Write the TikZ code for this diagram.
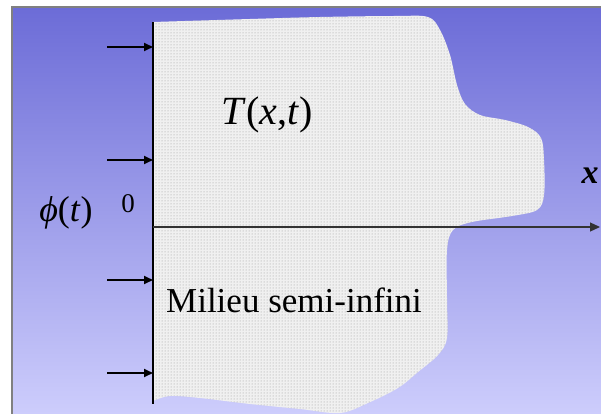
\documentclass[tikz,border=0pt]{standalone}
\usepackage{fontspec}
\setmainfont{Liberation Serif}
\usetikzlibrary{arrows.meta,patterns}
\definecolor{bgtop}{RGB}{108,108,215}
\definecolor{bgbot}{RGB}{205,205,252}
\begin{document}
\begin{tikzpicture}[
  x=1pt, y=-1pt,
  flux/.style={line width=1.8pt, -{Triangle[length=9pt, width=8pt]}},
  axis/.style={line width=1.2pt, draw=black!80, -{Triangle[length=10pt, width=9pt]}},
  every node/.style={inner sep=0pt, font=\fontsize{36}{40}\selectfont}
]
  \useasboundingbox (0,0) rectangle (601,414);
  \shade[top color=bgtop, bottom color=bgbot] (12,7) rectangle (601,414);
  \draw[gray, line width=1.2pt] (12,414) -- (12,7) -- (601,7);

  % the semi-infinite medium
  \fill[black!6] (153,404) -- (153,22)
    -- plot[smooth, tension=0.55] coordinates {(153,22) (250,19) (320,17) (395,16) (428,17)
       (440,30) (450,55) (457,85) (465,104) (480,115) (505,120) (528,127) (541,138)
       (544,160) (544,195) (537,210) (512,216) (472,222) (453,230) (447,250) (447,300)
       (447,338) (438,355) (418,372) (398,388) (368,403) (340,413) (300,409) (250,404)
       (200,398) (170,396) (153,401)}
    -- cycle;
  \fill[pattern=dots, pattern color=black!40] (153,404) -- (153,22)
    -- plot[smooth, tension=0.55] coordinates {(153,22) (250,19) (320,17) (395,16) (428,17)
       (440,30) (450,55) (457,85) (465,104) (480,115) (505,120) (528,127) (541,138)
       (544,160) (544,195) (537,210) (512,216) (472,222) (453,230) (447,250) (447,300)
       (447,338) (438,355) (418,372) (398,388) (368,403) (340,413) (300,409) (250,404)
       (200,398) (170,396) (153,401)}
    -- cycle;

  \coordinate (top) at (153,22);
  \coordinate (bot) at (153,404);
  \coordinate (o) at (153,227);
  \coordinate (xend) at (600,227);
  \draw[line width=1.2pt] (top) -- (bot);
  \draw[axis] (o) -- (xend);

  \coordinate (f1a) at (107,47);  \coordinate (f1b) at (153,47);
  \coordinate (f2a) at (107,160); \coordinate (f2b) at (153,160);
  \coordinate (f3a) at (107,280); \coordinate (f3b) at (153,280);
  \coordinate (f4a) at (107,373); \coordinate (f4b) at (153,373);
  \draw[flux] (f1a) -- (f1b);
  \draw[flux] (f2a) -- (f2b);
  \draw[flux] (f3a) -- (f3b);
  \draw[flux] (f4a) -- (f4b);

  \node[font=\fontsize{40}{44}\selectfont] (temp) at (267,115) {\textit{T}(\textit{x},\textit{t})};
  \node (milieu) at (294,300) {\fontsize{35}{40}\selectfont Milieu semi-infini};
  \node (phi) at (66,213) {\textit{ϕ}(\textit{t})};
  \node[font=\fontsize{27}{30}\selectfont] (zero) at (128,204) {0};
  \node[font=\fontsize{34}{40}\selectfont\bfseries\itshape] (xlab) at (590,176) {x};
\end{tikzpicture}
\end{document}
